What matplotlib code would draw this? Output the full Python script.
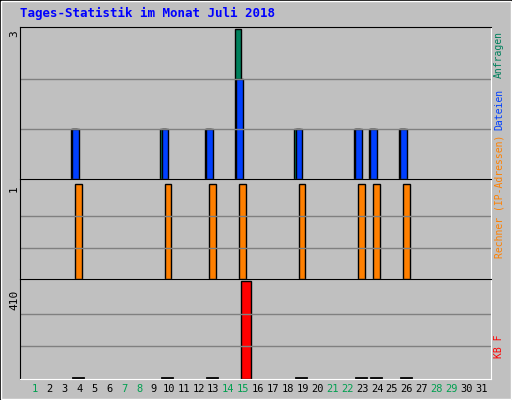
import matplotlib
matplotlib.use("Agg")
import matplotlib.pyplot as plt
from matplotlib.patches import Rectangle

days = list(range(1, 32))
act_days = [4, 10, 13, 15, 19, 23, 24, 26]
hits = [1, 1, 1, 3, 1, 1, 1, 1]
files = [1, 1, 1, 2, 1, 1, 1, 1]
visits = [1, 1, 1, 1, 1, 1, 1, 1]
kbytes = [3, 3, 3, 410, 3, 3, 3, 3]
weekends = [1, 7, 8, 14, 15, 21, 22, 28, 29]

BG = "#c0c0c0"
fig = plt.figure(figsize=(5.12, 4.0), dpi=100, facecolor="#c0c0c0")
W, H = 512, 400
fig.patches.append(Rectangle((0, 0), 1, 1, transform=fig.transFigure, fill=False, ec="black", lw=2))
fig.patches.append(Rectangle((1/W, 1/H), 510/W, 398/H, transform=fig.transFigure, fill=False, ec="white", lw=1))

def ax_at(x0, y0, x1, y1):
    return fig.add_axes([x0/W, 1-y1/H, (x1-x0)/W, (y1-y0)/H])

def style(ax, top):
    ax.set_facecolor(BG)
    ax.set_xlim(0, 31.6)
    ax.set_ylim(0, top)
    ax.set_xticks([]); ax.set_yticks([])
    for s in ax.spines.values():
        s.set_color("black")
    ax.spines["bottom"].set_color("white"); ax.spines["right"].set_color("white")

a1 = ax_at(20, 27, 491, 179)
style(a1, 3.05)
for g in [1, 2]:
    a1.axhline(g, color="#808080", lw=1)
a1.bar([d - 0.6 for d in act_days], hits, width=0.4, align="edge", color="#00805c", ec="black", lw=1)
a1.bar([d - 0.5 for d in act_days], files, width=0.45, align="edge", color="#0040ff", ec="black", lw=1)

a2 = ax_at(20, 179, 491, 279)
style(a2, 1.05)
for g in [0.33, 0.66]:
    a2.axhline(g, color="#808080", lw=1)
a2.bar([d - 0.3 for d in act_days], visits, width=0.45, align="edge", color="#ff8000", ec="black", lw=1)

a3 = ax_at(20, 279, 491, 379)
style(a3, 420)
for g in [137, 273]:
    a3.axhline(g, color="#808080", lw=1)
for d, k in zip(act_days, kbytes):
    if k > 10:
        a3.bar(d - 0.2, k, width=0.7, align="edge", color="#ff0000", ec="black", lw=1)
    else:
        a3.plot([d - 0.45, d + 0.2], [k, k], color="black", lw=2)

mono = "DejaVu Sans Mono"
fig.text(20/W, 1-13/H, "Tages-Statistik im Monat Juli 2018", color="#0000ff", fontsize=9,
         family=mono, weight="bold", va="center")
for y, t in [(30, "3"), (185, "1"), (290, "410")]:
    fig.text(14/W, 1-y/H, t, rotation=90, fontsize=8, family=mono, va="top", ha="center")
for d in days:
    x = 35 + (d - 1) * 14.87
    fig.text(x/W, 1-389/H, str(d), fontsize=7.5, family=mono, ha="center", va="center",
             color="#00a050" if d in weekends else "black")

def vt(y, t, c):
    fig.text(499/W, 1-y/H, t, rotation=90, fontsize=7, family=mono, color=c, ha="center", va="bottom")
vt(78, "Anfragen", "#00805c")
vt(130, "Dateien", "#0040ff")
vt(258, "Rechner (IP-Adressen)", "#ff8000")
vt(358, "KB F", "#ff0000")

fig.savefig("out.png", dpi=100, facecolor=fig.get_facecolor())
